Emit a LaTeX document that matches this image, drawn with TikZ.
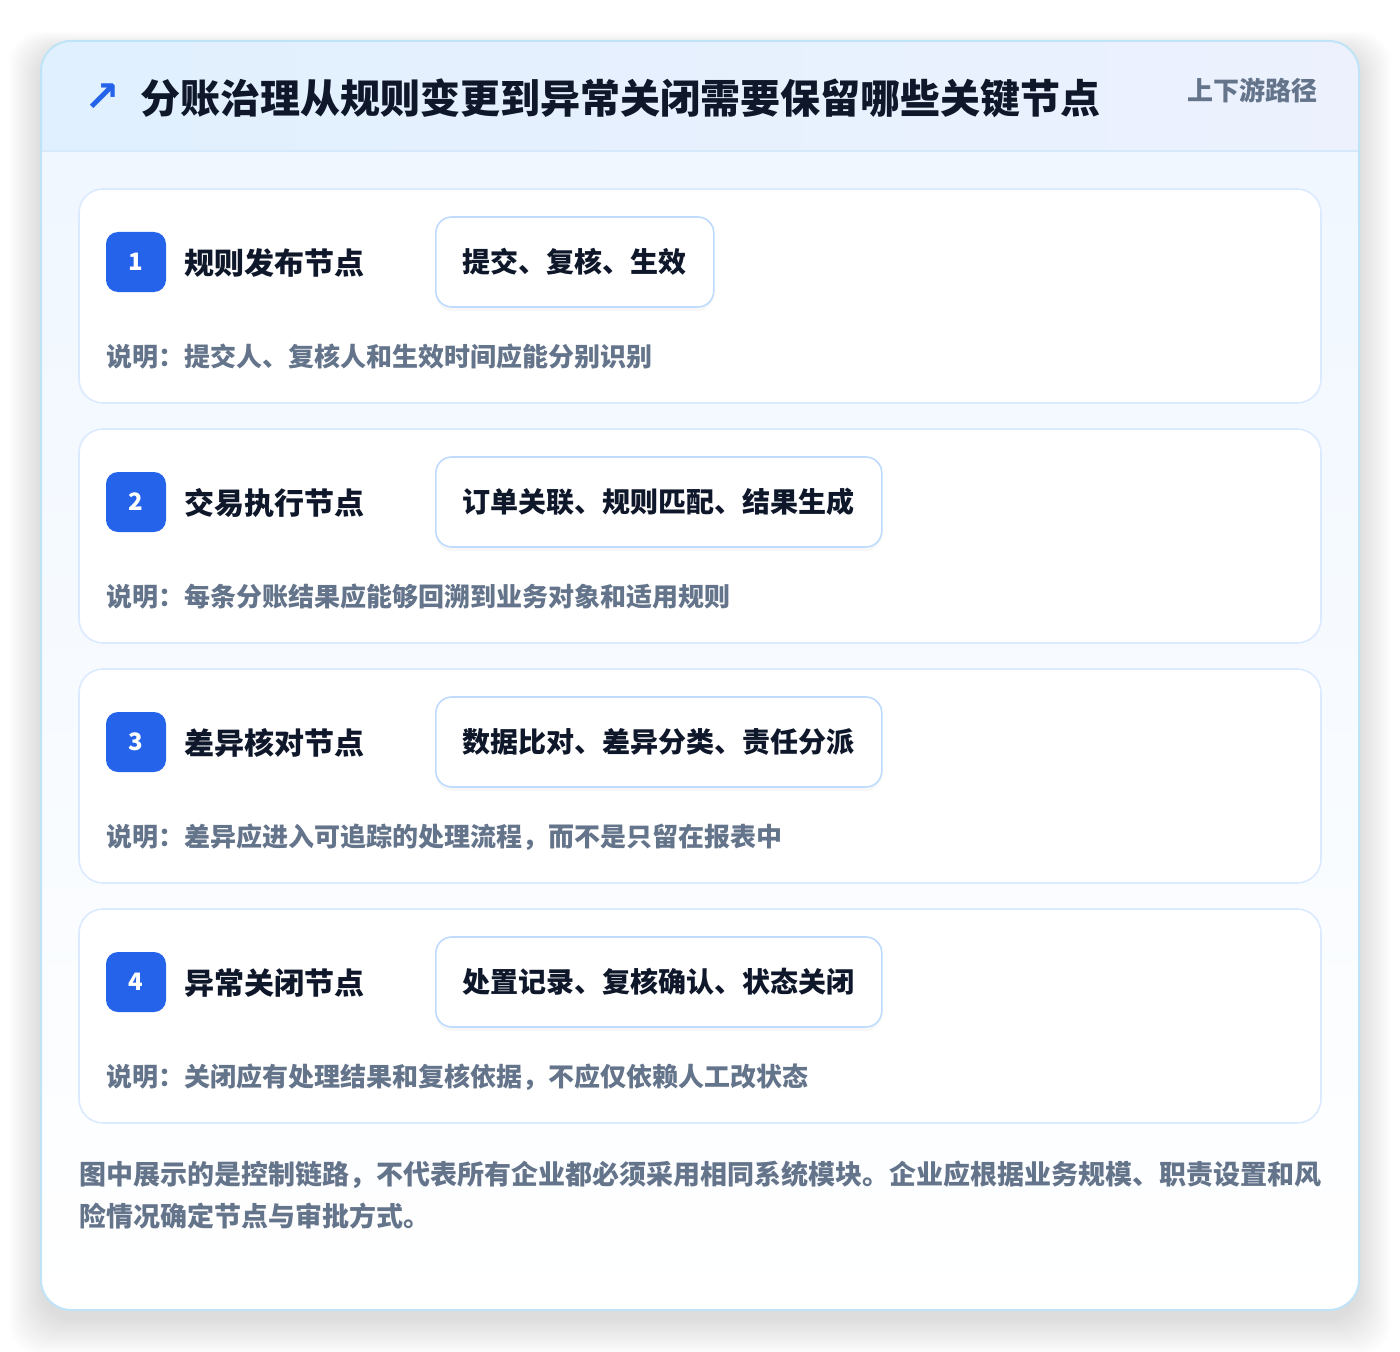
\documentclass[tikz,border=0pt]{standalone}
\usepackage{fontspec}
\setmainfont{Noto Sans CJK SC}
\newfontfamily\symfont{DejaVu Sans}
\usetikzlibrary{shadows}

\definecolor{ink}{HTML}{0F172A}
\definecolor{slate}{HTML}{64748B}
\definecolor{blue600}{HTML}{2563EB}
\definecolor{frameline}{HTML}{BFE3F7}
\definecolor{cardline}{HTML}{DBEAFE}
\definecolor{pillline}{HTML}{BFDBFE}
\definecolor{headl}{HTML}{E0F0FE}
\definecolor{headr}{HTML}{EDF1FE}
\definecolor{headline}{HTML}{D6E9FB}
\definecolor{bodytop}{HTML}{F0F7FF}

\tikzset{
  stepcard/.style={draw=cardline,fill=white,line width=1.2pt,rounded corners=18pt},
  badge/.style={fill=blue600,rounded corners=9pt,minimum size=45pt,inner sep=0pt,
    text=white,font=\bfseries\fontsize{18}{18}\selectfont},
  steplabel/.style={anchor=west,inner sep=0pt,text=ink,font=\bfseries\fontsize{22.5}{24}\selectfont},
  pill/.style={anchor=west,draw=pillline,fill=white,line width=1.2pt,rounded corners=12pt,
    minimum height=67.5pt,inner xsep=20.25pt,text=ink,font=\bfseries\fontsize{21}{22}\selectfont,
    drop shadow={opacity=0.06,shadow xshift=0pt,shadow yshift=-3pt}},
  notetext/.style={anchor=west,inner sep=0pt,text=slate,font=\bfseries\fontsize{19.5}{20}\selectfont}
}

\begin{document}
\begin{tikzpicture}[x=0.75pt,y=-0.75pt]
  \useasboundingbox[fill=white] (0,0) rectangle (1400,1352);

  % soft shadow under the card
  \foreach \k in {0,...,16}
    \fill[black,opacity=0.007,rounded corners=24pt]
      ({41-2*\k},{51-1.2*\k}) rectangle ({1359+2*\k},{1320+2.2*\k});

  % card with header and body
  \begin{scope}
    \clip[rounded corners=22.5pt] (41,41) rectangle (1359,1310);
    \shade[top color=bodytop,bottom color=white] (41,151) rectangle (1359,1310);
    \shade[left color=headl,right color=headr] (41,41) rectangle (1359,151);
    \draw[headline,line width=1.2pt] (41,151) -- (1359,151);
  \end{scope}
  \draw[frameline,line width=1.5pt,rounded corners=22.5pt] (41,41) rectangle (1359,1310);

  % header
  \node[text=blue600,inner sep=0pt,font=\symfont\bfseries\fontsize{32}{32}\selectfont] (icon) at (102,98) {↗};
  \node[anchor=west,inner sep=0pt,text=ink,font=\bfseries\fontsize{30}{32}\selectfont] (title) at (140,98)
    {分账治理从规则变更到异常关闭需要保留哪些关键节点};
  \node[anchor=east,inner sep=0pt,text=slate,font=\bfseries\fontsize{19.5}{20}\selectfont] (scopetag) at (1318,90)
    {上下游路径};

  % four steps
  \foreach \i/\name/\tags/\note [count=\n from 0] in {
    1/规则发布节点/提交、复核、生效/提交人、复核人和生效时间应能分别识别,
    2/交易执行节点/订单关联、规则匹配、结果生成/每条分账结果应能够回溯到业务对象和适用规则,
    3/差异核对节点/数据比对、差异分类、责任分派/差异应进入可追踪的处理流程，而不是只留在报表中,
    4/异常关闭节点/处置记录、复核确认、状态关闭/关闭应有处理结果和复核依据，不应仅依赖人工改状态}
  {
    \pgfmathsetmacro\ytop{189+240*\n}
    \draw[stepcard] (79,\ytop) rectangle (1321,{\ytop+214});
    \node[badge] (badge\i) at (136,{\ytop+73}) {\i};
    \node[steplabel] (label\i) at (184,{\ytop+74}) {\name};
    \node[pill] (tags\i) at (435,{\ytop+73}) {\tags};
    \node[notetext] (note\i) at (106,{\ytop+168}) {说明：\note};
  }

  % footer
  \node[anchor=north west,inner sep=0pt,align=left,text=slate,
    font=\bfseries\fontsize{20.25}{31.5}\selectfont] (footnote) at (79,1161)
    {图中展示的是控制链路，不代表所有企业都必须采用相同系统模块。企业应根据业务规模、职责设置和风\\
     险情况确定节点与审批方式。};
\end{tikzpicture}
\end{document}
